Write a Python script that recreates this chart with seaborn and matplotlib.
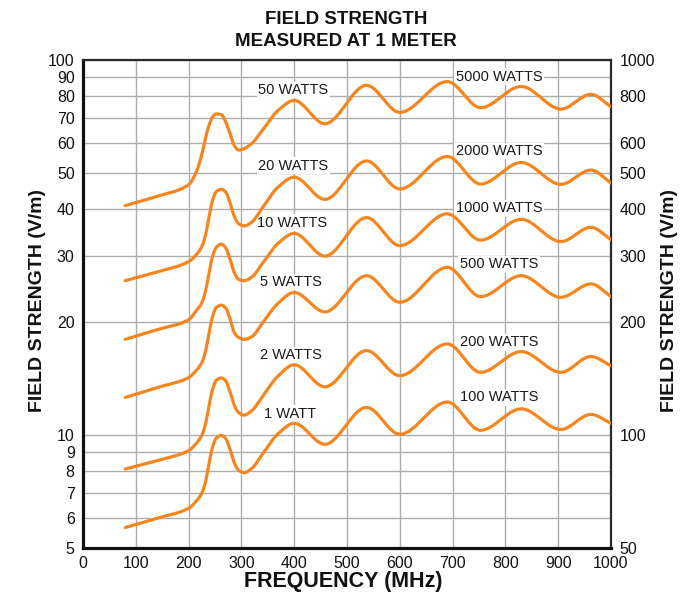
import numpy as np
import pandas as pd
import matplotlib
matplotlib.use("Agg")
import matplotlib.pyplot as plt
from matplotlib.ticker import FixedLocator, NullLocator, NullFormatter
import seaborn as sns

# ---------------- data ----------------
freq_mhz = [80, 140, 200, 215, 225, 232, 238, 245, 252, 262, 270, 278, 287, 295, 305,
            320, 340, 370, 400, 458, 537, 600, 690, 753, 830, 905, 962, 1000]

w1 = [5.67, 6.0, 6.38, 6.68, 7.0, 7.5, 8.3, 9.25, 9.8, 9.98, 9.8, 9.2, 8.4, 8.05, 7.94,
      8.16, 8.9, 10.1, 10.75, 9.45, 11.85, 10.05, 12.25, 10.3, 11.75, 10.35, 11.35, 10.75]
w2 = [8.12, 8.55, 9.09, 9.52, 9.98, 10.69, 11.83, 13.18, 13.97, 14.2, 13.96, 13.1, 11.97, 11.47, 11.3,
      11.63, 12.68, 14.4, 15.4, 13.45, 16.8, 14.4, 17.5, 14.7, 16.7, 14.7, 16.2, 15.3]
w5 = [12.6, 13.38, 14.23, 14.9, 15.6, 16.7, 18.5, 20.6, 21.85, 22.2, 21.85, 20.5, 18.7, 18.2, 18.0,
      18.3, 19.9, 22.5, 24.0, 21.3, 26.6, 22.6, 28.0, 23.4, 26.6, 23.3, 25.3, 23.4]
w10 = [18.0, 19.1, 20.3, 21.5, 22.5, 24.2, 26.7, 29.8, 31.6, 32.3, 31.6, 29.6, 27.0, 26.0, 25.8,
       26.4, 28.7, 32.5, 34.5, 30.0, 38.0, 32.0, 38.9, 33.1, 37.6, 32.8, 35.8, 33.2]
w20 = [25.8, 27.2, 29.0, 30.3, 31.8, 34.1, 37.7, 42.0, 44.5, 45.2, 44.5, 41.8, 38.1, 36.6, 36.1,
       37.0, 40.4, 45.9, 48.7, 42.5, 53.8, 45.3, 55.3, 46.7, 53.3, 46.6, 50.9, 47.0]
w50 = [40.9, 43.3, 46.5, 50.5, 56.0, 62.0, 66.5, 70.3, 71.8, 71.5, 68.5, 64.0, 59.0, 57.5, 58.0,
       60.0, 65.0, 73.5, 78.0, 67.6, 85.6, 72.5, 87.6, 74.6, 85.0, 74.0, 81.0, 75.0]

series_values = [w1, w2, w5, w10, w20, w50]
left_labels = ["1 WATT", "2 WATTS", "5 WATTS", "10 WATTS", "20 WATTS", "50 WATTS"]
right_labels = ["100 WATTS", "200 WATTS", "500 WATTS", "1000 WATTS", "2000 WATTS", "5000 WATTS"]

left_ticks = [5, 6, 7, 8, 9, 10, 20, 30, 40, 50, 60, 70, 80, 90, 100]
right_ticks = [50, 100, 200, 300, 400, 500, 600, 800, 1000]
x_ticks = list(range(0, 1001, 100))

# label anchor positions (layout, in data coords of left axis)
left_label_pos = [(392, 11.4), (394, 16.3), (394, 25.6), (396, 36.8), (398, 52.3), (398, 83.2)]
right_label_pos = [(788, 12.6), (788, 17.7), (788, 28.5), (788, 40.3), (788, 57.2), (788, 90.3)]

ORANGE = "#F5861F"


def pchip(x, y, xs):
    x = np.asarray(x, float)
    y = np.asarray(y, float)
    h = np.diff(x)
    d = np.diff(y) / h
    n = len(x)
    m = np.zeros(n)
    for k in range(1, n - 1):
        if d[k - 1] * d[k] <= 0:
            m[k] = 0.0
        else:
            a = 2 * h[k] + h[k - 1]
            b = h[k] + 2 * h[k - 1]
            m[k] = (a + b) / (a / d[k - 1] + b / d[k])
    m[0] = d[0]
    m[-1] = d[-1]
    idx = np.clip(np.searchsorted(x, xs) - 1, 0, n - 2)
    t = (xs - x[idx]) / h[idx]
    h00 = 2 * t**3 - 3 * t**2 + 1
    h10 = t**3 - 2 * t**2 + t
    h01 = -2 * t**3 + 3 * t**2
    h11 = t**3 - t**2
    return (h00 * y[idx] + h10 * h[idx] * m[idx] + h01 * y[idx + 1]
            + h11 * h[idx] * m[idx + 1])


sns.set_theme(style="white")
plt.rcParams["font.family"] = ["Liberation Sans", "DejaVu Sans"]

fig = plt.figure(figsize=(6.92, 5.95), dpi=100)
ax = fig.add_axes([83 / 692, 1 - 548 / 595, (611 - 83) / 692, (548 - 60) / 595])

# smooth curves through the read points (drawn in log space)
xs = np.linspace(freq_mhz[0], freq_mhz[-1], 900)
rows = []
for name, vals in zip(left_labels, series_values):
    ys = 10 ** pchip(freq_mhz, np.log10(vals), xs)
    rows.append(pd.DataFrame({"freq": xs, "field": ys, "series": name}))
df = pd.concat(rows, ignore_index=True)

sns.lineplot(data=df, x="freq", y="field", units="series", estimator=None,
             color=ORANGE, lw=2.3, ax=ax, zorder=4, legend=False)

ax.set_yscale("log")
ax.set_xlim(0, 1000)
ax.set_ylim(5, 100)
ax.xaxis.set_major_locator(FixedLocator(x_ticks))
ax.set_xticklabels([str(v) for v in x_ticks])
ax.yaxis.set_major_locator(FixedLocator(left_ticks))
ax.yaxis.set_minor_locator(NullLocator())
ax.yaxis.set_minor_formatter(NullFormatter())
ax.set_yticklabels([str(v) for v in left_ticks])
ax.tick_params(axis="both", length=0, labelsize=11.5, colors="#111111", pad=6)
ax.grid(True, color="#adadad", lw=1.0, zorder=0)
ax.set_axisbelow(True)
ax.set_xlabel("")
ax.set_ylabel("")

for side in ["left", "bottom"]:
    ax.spines[side].set_color("#111111")
    ax.spines[side].set_linewidth(2.3)
for side in ["top", "right"]:
    ax.spines[side].set_color("#2a2a2a")
    ax.spines[side].set_linewidth(1.6)

ax2 = ax.twinx()
ax2.set_yscale("log")
ax2.set_ylim(50, 1000)
ax2.yaxis.set_major_locator(FixedLocator(right_ticks))
ax2.yaxis.set_minor_locator(NullLocator())
ax2.yaxis.set_minor_formatter(NullFormatter())
ax2.set_yticklabels([str(v) for v in right_ticks])
ax2.tick_params(axis="y", length=0, labelsize=11.5, colors="#111111", pad=6)
for s in ax2.spines.values():
    s.set_visible(False)

bbox = dict(facecolor="white", edgecolor="none", pad=1.0)
for txt, (x, y) in zip(left_labels, left_label_pos):
    ax.text(x, y, txt, ha="center", va="center", fontsize=10.5, color="#1a1a1a",
            bbox=bbox, zorder=3)
for txt, (x, y) in zip(right_labels, right_label_pos):
    ax.text(x, y, txt, ha="center", va="center", fontsize=10.5, color="#1a1a1a",
            bbox=bbox, zorder=3)

fig.text(0.5, 1 - 19 / 595, "FIELD STRENGTH", ha="center", va="center",
         fontsize=13.5, fontweight="bold", color="#111111")
fig.text(0.5, 1 - 41 / 595, "MEASURED AT 1 METER", ha="center", va="center",
         fontsize=13.5, fontweight="bold", color="#111111")
fig.text(343 / 692, 1 - 582 / 595, "FREQUENCY (MHz)", ha="center", va="center",
         fontsize=15.5, fontweight="bold", color="#111111")
fig.text(38 / 692, 1 - 301 / 595, "FIELD STRENGTH (V/m)", ha="center", va="center",
         rotation=90, fontsize=14, fontweight="bold", color="#111111")
fig.text(670 / 692, 1 - 301 / 595, "FIELD STRENGTH (V/m)", ha="center", va="center",
         rotation=90, fontsize=14, fontweight="bold", color="#111111")

fig.savefig("out.png", dpi=100)
